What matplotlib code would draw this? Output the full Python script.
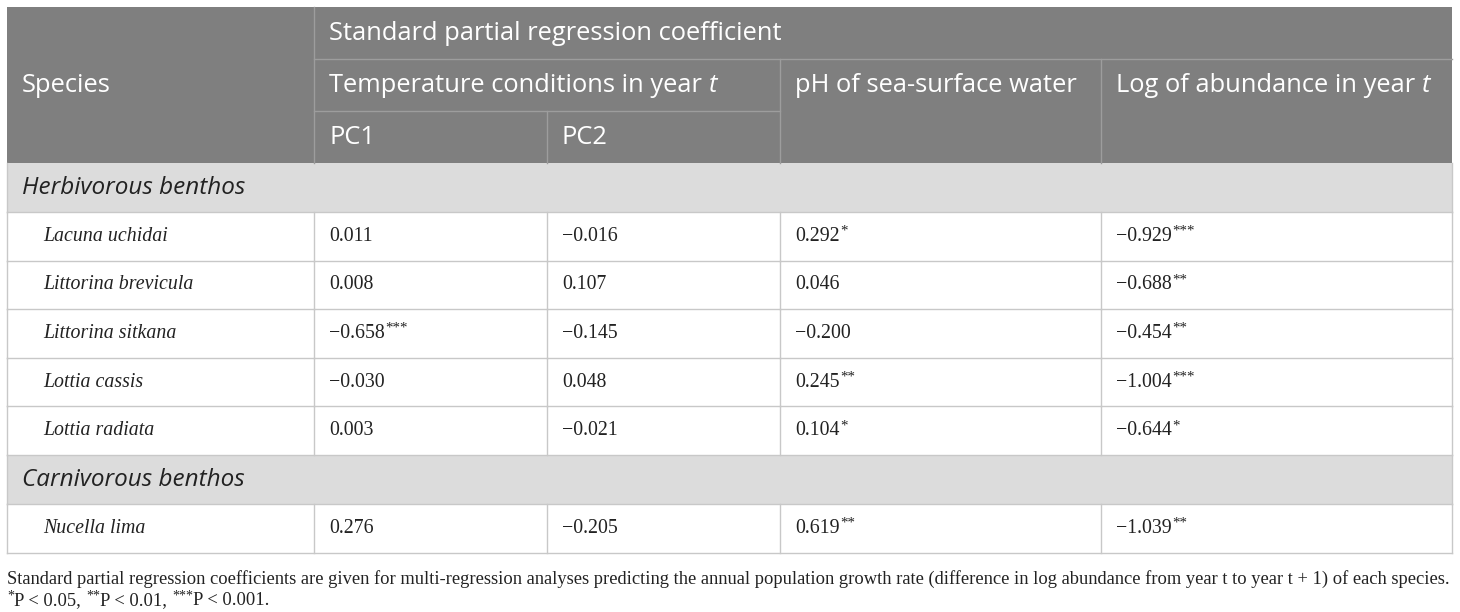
import matplotlib
matplotlib.use("Agg")
import matplotlib.pyplot as plt
from matplotlib.patches import Rectangle

# table content
species = ["Lacuna uchidai", "Littorina brevicula", "Littorina sitkana",
           "Lottia cassis", "Lottia radiata", "Nucella lima"]
groups = ["Herbivorous benthos", "Carnivorous benthos"]
group_of = [0, 0, 0, 0, 0, 1]
pc1 = ["0.011", "0.008", "\u22120.658", "\u22120.030", "0.003", "0.276"]
pc1_sig = ["", "", "***", "", "", ""]
pc2 = ["\u22120.016", "0.107", "\u22120.145", "0.048", "\u22120.021", "\u22120.205"]
pc2_sig = ["", "", "", "", "", ""]
ph = ["0.292", "0.046", "\u22120.200", "0.245", "0.104", "0.619"]
ph_sig = ["*", "", "", "**", "*", "**"]
logab = ["\u22120.929", "\u22120.688", "\u22120.454", "\u22121.004", "\u22120.644", "\u22121.039"]
logab_sig = ["***", "**", "**", "***", "*", "**"]

footnote1 = ("Standard partial regression coefficients are given for multi-regression analyses "
             "predicting the annual population growth rate (difference in log abundance from year t "
             "to year t + 1) of each species.")
footnote2 = [("*", "P < 0.05, "), ("**", "P < 0.01, "), ("***", "P < 0.001.")]

HEAD_BG = "#7f7f7f"
HEAD_LINE = "#9d9d9d"
GROUP_BG = "#dcdcdc"
LINE = "#c8c8c8"
SANS = "Open Sans"
SERIF = "Liberation Serif"
HEAD_FS = 18.4
GROUP_FS = 17.5
DATA_FS = 14.3
NOTE_FS = 13.35

fig = plt.figure(figsize=(14.6, 6.12), dpi=100)
ax = fig.add_axes([0, 0, 1, 1])
ax.set_xlim(0, 1460)
ax.set_ylim(612, 0)
ax.axis("off")
renderer = fig.canvas.get_renderer()

cols = [7, 314, 547, 780, 1101, 1452]
head = [7, 59, 111, 163]
pad = 15


def width_of(t):
    bb = t.get_window_extent(renderer=renderer)
    return bb.width


def text_with_sup(x, y, base, sup, size, family=SERIF):
    t = ax.text(x, y, base, fontsize=size, family=family, va="center", ha="left", color="#222222")
    if sup:
        w = width_of(t)
        ax.text(x + w + 0.5, y - 5, sup, fontsize=size * 0.75, family=family,
                va="center", ha="left", color="#222222")


def head_text(x, y, s, italic_tail=None):
    t = ax.text(x, y, s, fontsize=HEAD_FS, family=SANS, color="white", va="center", ha="left")
    if italic_tail:
        w = width_of(t)
        ax.text(x + w, y, italic_tail, fontsize=HEAD_FS, family=SANS, style="italic",
                color="white", va="center", ha="left")


# header block
ax.add_patch(Rectangle((cols[0], head[0]), cols[-1] - cols[0], head[-1] - head[0],
                       facecolor=HEAD_BG, edgecolor="none"))
ax.plot([cols[1], cols[-1]], [head[1], head[1]], color=HEAD_LINE, lw=1)
ax.plot([cols[1], cols[3]], [head[2], head[2]], color=HEAD_LINE, lw=1)
ax.plot([cols[1], cols[1]], [head[0], head[3]], color=HEAD_LINE, lw=1)
ax.plot([cols[2], cols[2]], [head[2], head[3]], color=HEAD_LINE, lw=1)
ax.plot([cols[3], cols[3]], [head[1], head[3]], color=HEAD_LINE, lw=1)
ax.plot([cols[4], cols[4]], [head[1], head[3]], color=HEAD_LINE, lw=1)

mid = lambda a, b: (a + b) / 2
head_text(cols[0] + pad, mid(head[0], head[3]), "Species")
head_text(cols[1] + pad, mid(head[0], head[1]), "Standard partial regression coefficient")
head_text(cols[1] + pad, mid(head[1], head[2]), "Temperature conditions in year ", "t")
head_text(cols[3] + pad, mid(head[1], head[2]), "pH of sea-surface water")
head_text(cols[4] + pad, mid(head[1], head[2]), "Log of abundance in year ", "t")
head_text(cols[1] + pad, mid(head[2], head[3]), "PC1")
head_text(cols[2] + pad, mid(head[2], head[3]), "PC2")

# body
group_h = 49
row_h = 48.6
y = head[-1]
values = list(zip(pc1, pc1_sig)), list(zip(pc2, pc2_sig)), list(zip(ph, ph_sig)), list(zip(logab, logab_sig))
last_group = -1
for i, name in enumerate(species):
    g = group_of[i]
    if g != last_group:
        ax.add_patch(Rectangle((cols[0], y), cols[-1] - cols[0], group_h,
                               facecolor=GROUP_BG, edgecolor="none"))
        ax.text(cols[0] + pad, y + group_h / 2, groups[g], fontsize=GROUP_FS, family=SANS,
                style="italic", color="#222222", va="center", ha="left")
        ax.plot([cols[0], cols[-1]], [y + group_h, y + group_h], color=LINE, lw=1)
        ax.plot([cols[0], cols[0]], [y, y + group_h], color=LINE, lw=1)
        ax.plot([cols[-1], cols[-1]], [y, y + group_h], color=LINE, lw=1)
        y += group_h
        last_group = g
    ax.text(cols[0] + 36, y + row_h / 2, name, fontsize=DATA_FS, family=SERIF, style="italic",
            color="#222222", va="center", ha="left")
    for c, col in enumerate(values):
        base, sup = col[i]
        text_with_sup(cols[c + 1] + pad, y + row_h / 2, base, sup, DATA_FS)
    for cx in cols:
        ax.plot([cx, cx], [y, y + row_h], color=LINE, lw=1)
    ax.plot([cols[0], cols[-1]], [y + row_h, y + row_h], color=LINE, lw=1)
    y += row_h

# footnotes
ax.text(cols[0], y + 26, footnote1, fontsize=NOTE_FS, family=SERIF, color="#222222",
        va="center", ha="left")
fx = cols[0]
for star, txt in footnote2:
    t = ax.text(fx, y + 43, star, fontsize=NOTE_FS * 0.75, family=SERIF, color="#222222",
                va="center", ha="left")
    fx += width_of(t) + 0.5
    t = ax.text(fx, y + 48, txt, fontsize=NOTE_FS, family=SERIF, color="#222222",
                va="center", ha="left")
    fx += width_of(t)

fig.savefig("out.png", dpi=100)
